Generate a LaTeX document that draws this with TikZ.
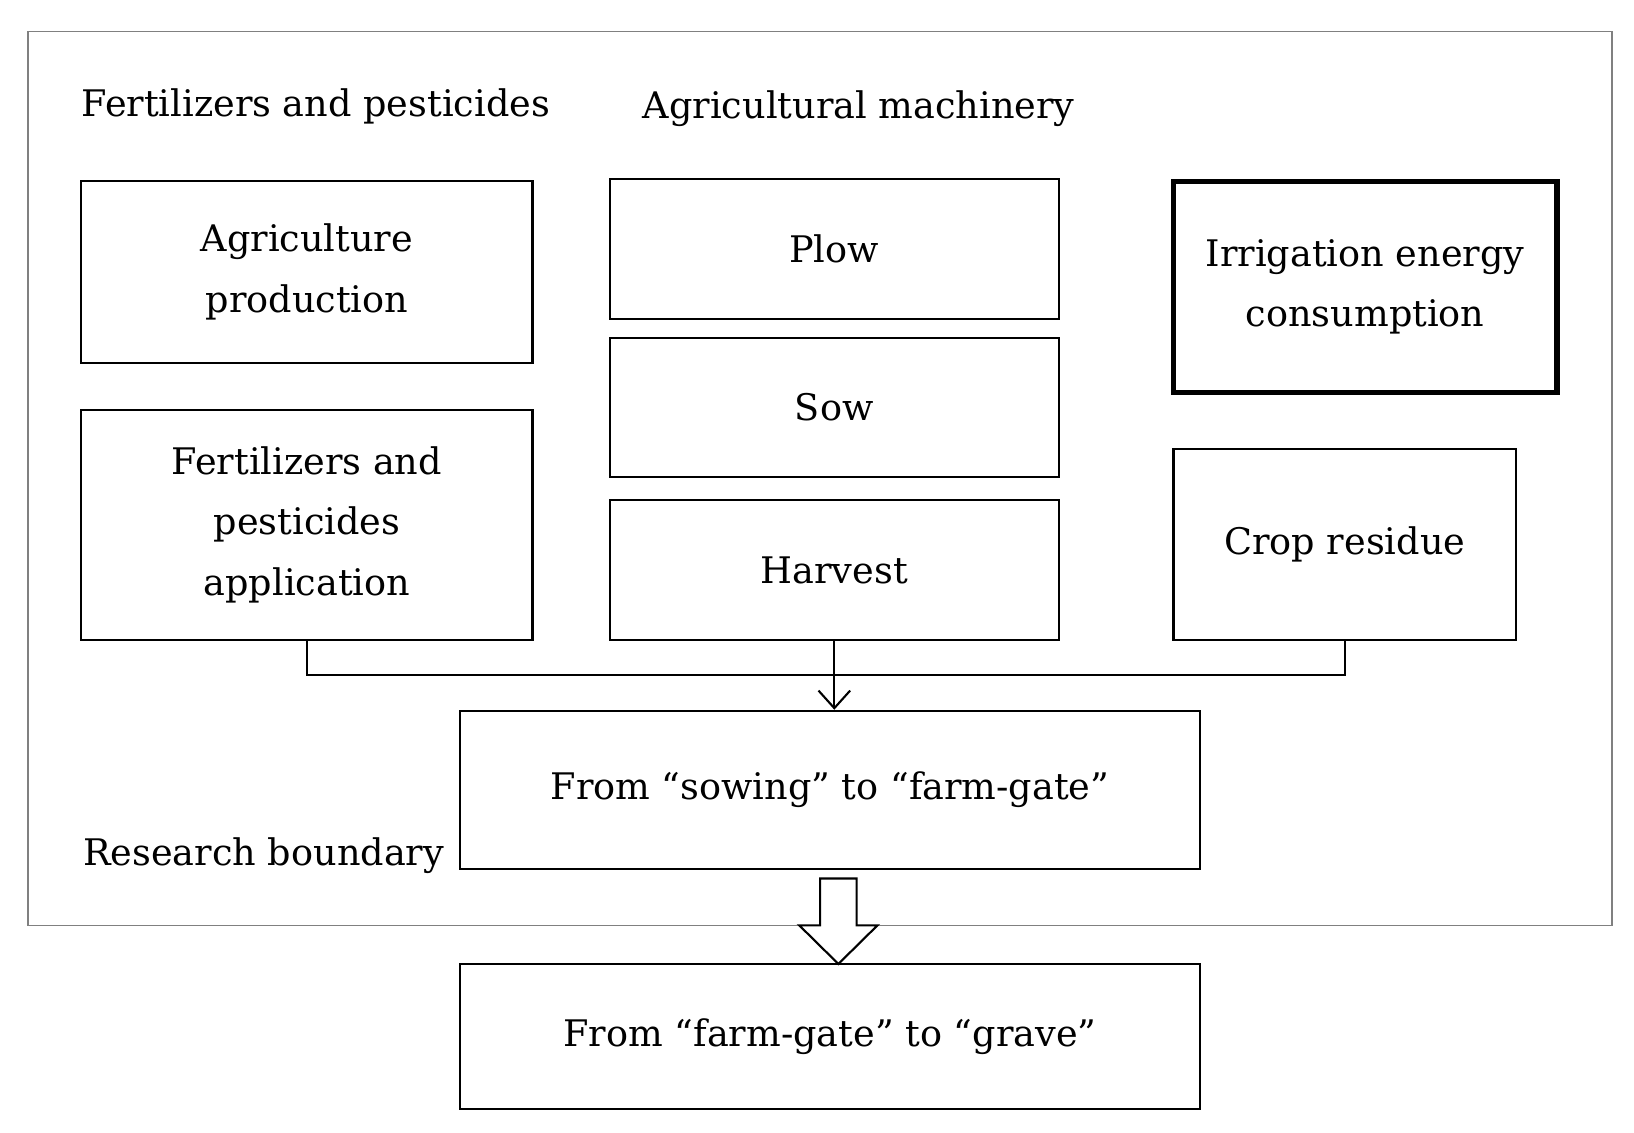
\documentclass[tikz,border=0pt]{standalone}
\usepackage{fontspec}
\setmainfont{DejaVu Serif}
\usetikzlibrary{arrows.meta}
\begin{document}
\begin{tikzpicture}[x=0.02cm,y=-0.02cm,scale=1.042,every node/.append style={transform shape},
		box/.style={draw, line width=1.2pt, align=center, font=\fontsize{20}{33}\selectfont},
		lbl/.style={font=\fontsize{20}{33}\selectfont}]
		\useasboundingbox (0,0) rectangle (1568,1087);
		% Research boundary
		\draw[color=gray, line width=0.8pt] (27,30) rectangle (1547,888);
		\node[lbl] at (303,102) {Fertilizers and pesticides};
		\node[lbl] at (824,104) {Agricultural machinery};
		\node[lbl] at (253,821) {Research boundary};

		% Boxes
		\node[box, minimum width=8.66cm, minimum height=3.48cm] (agri) at (294.5,261) {Agriculture\\production};
		\node[box, minimum width=8.66cm, minimum height=4.42cm] (fert) at (294.5,503.5) {Fertilizers and\\pesticides\\application};
		\node[box, minimum width=8.62cm, minimum height=2.68cm] (plow) at (800.5,239) {Plow};
		\node[box, minimum width=8.62cm, minimum height=2.68cm] (sow) at (800.5,391) {Sow};
		\node[box, minimum width=8.62cm, minimum height=2.68cm] (harv) at (800.5,547) {Harvest};
		\node[box, line width=3pt, minimum width=7.36cm, minimum height=4.06cm] (irr) at (1310,275.5) {Irrigation energy\\consumption};
		\node[box, minimum width=6.58cm, minimum height=3.66cm] (crop) at (1290.5,522.5) {Crop residue};
		\node[box, minimum width=14.22cm, minimum height=3.04cm] (s2f) at (796.5,758) {From ``sowing'' to ``farm-gate''};
		\node[box, minimum width=14.22cm, minimum height=2.78cm] (f2g) at (796.5,994.5) {From ``farm-gate'' to ``grave''};

		% Connectors
		\coordinate (j) at (harv.south |- 0,648);
		\draw[line width=1.2pt] (fert.south) |- (j) -| (crop.south);
		\draw[line width=1.2pt, -{Straight Barb[length=10pt,width=18pt]}] (harv.south) -- (harv.south |- s2f.north);

		% Hollow arrow
		\draw[line width=1.2pt, fill=white] (787,843) -- (822,843) -- (822,888) -- (842,888) -- (804.5,925)
			-- (767,888) -- (787,888) -- cycle;
	\end{tikzpicture}
\end{document}
